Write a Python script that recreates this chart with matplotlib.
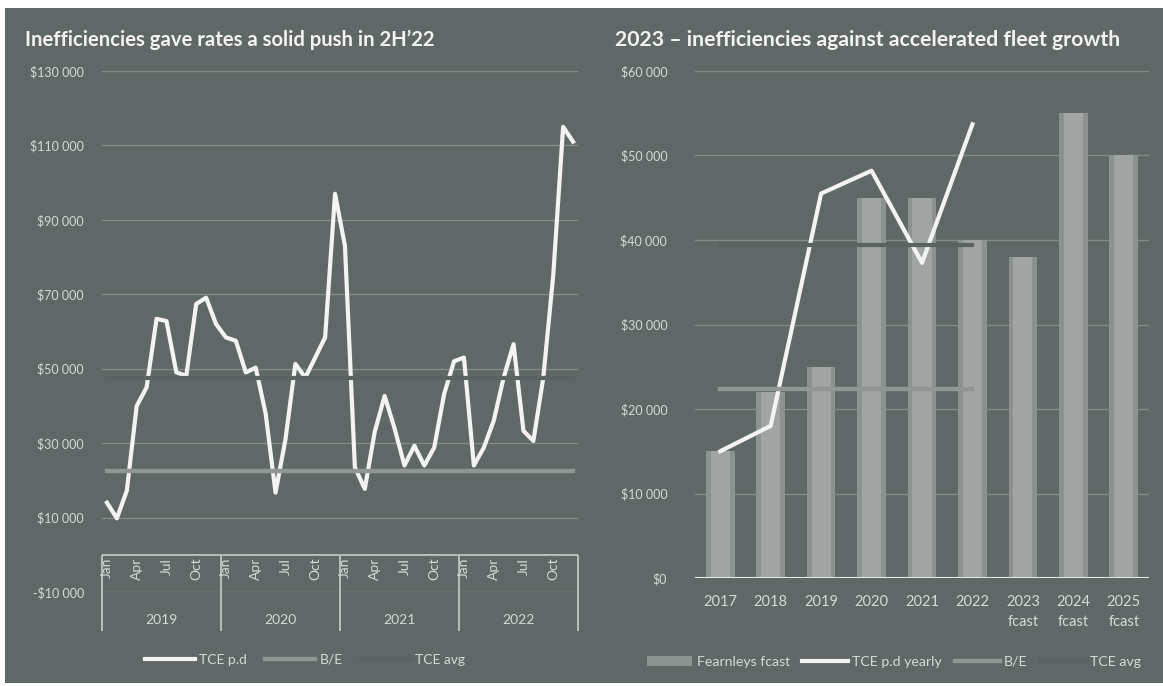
import numpy as np
import matplotlib.pyplot as plt
from matplotlib.ticker import FuncFormatter
from matplotlib.patches import Rectangle

# left chart: monthly TCE, Jan 2019 - Dec 2022
month_names = ['Jan', 'Feb', 'Mar', 'Apr', 'May', 'Jun', 'Jul', 'Aug', 'Sep', 'Oct', 'Nov', 'Dec']
years_left = ['2019', '2020', '2021', '2022']
tce_pd = [14000, 9800, 17200, 40000, 45000, 63400, 62800, 49000, 48100, 67400, 69100, 62000,
          58400, 57500, 49000, 50300, 38000, 16700, 31000, 51300, 47600, 53000, 58400, 97000,
          83000, 23500, 17700, 33000, 42700, 34000, 24000, 29300, 24000, 28800, 43200, 52000,
          53000, 24000, 28800, 36000, 47600, 56600, 33300, 30600, 47600, 75000, 115000, 111000]
be_left = 22500
tce_avg_left = 47500

# right chart: yearly
years_right = ['2017', '2018', '2019', '2020', '2021', '2022', '2023\nfcast', '2024\nfcast', '2025\nfcast']
fearnleys = [15000, 22000, 25000, 45000, 45000, 40000, 38000, 55000, 50000]
tce_yearly = [15000, 18000, 45500, 48200, 37300, 53700]
be_right = 22400
tce_avg_right = 39400

BG = '#5f6866'
GRID = '#838a88'
TXT = '#d6d9d8'
WHITE = '#f3f3f3'
BE_C = '#8f9694'
AVG_C = '#5a6361'
BAR_C = '#a0a5a3'
BAR_EDGE = '#8c9290'

plt.rcParams['font.family'] = ['Lato', 'DejaVu Sans']

fig = plt.figure(figsize=(11.63, 6.86), dpi=100, facecolor='white')
bg = fig.add_axes([5 / 1163, 3 / 686, 1 - 5 / 1163, 675 / 686], zorder=-5)
bg.add_patch(Rectangle((0, 0), 1, 1, transform=bg.transAxes, facecolor=BG, edgecolor='none'))
bg.set_axis_off()


def money(v, pos=None):
    s = '{:,.0f}'.format(abs(v)).replace(',', ' ')
    return ('-$' if v < 0 else '$') + s


# ---------- left ----------
ax1 = fig.add_axes([102 / 1163, (686 - 592) / 686, 476 / 1163, 521 / 686])
ax1.set_facecolor('none')
n = len(tce_pd)
x = np.arange(n)
ax1.set_xlim(-0.5, n - 0.5)
ax1.set_ylim(-10000, 130000)
ax1.set_yticks(np.arange(-10000, 130001, 20000))
ax1.yaxis.set_major_formatter(FuncFormatter(money))
ax1.grid(axis='y', color=GRID, lw=1)
ax1.set_axisbelow(True)
ax1.set_xticks([])
ax1.tick_params(axis='y', length=0, pad=13, labelsize=9, labelcolor=TXT)
for s in ax1.spines.values():
    s.set_visible(False)

ax1.plot(x, tce_pd, color=WHITE, lw=3, zorder=3, label='TCE p.d')
ax1.plot(x, [be_left] * n, color=BE_C, lw=3.2, zorder=4, label='B/E')
ax1.plot(x, [tce_avg_left] * n, color=AVG_C, lw=3, zorder=5, label='TCE avg')
ax1.axhline(0, color='#c9cdcb', lw=1.2, zorder=2)

# multi-level category axis
for i in range(n):
    if i % 3 == 0:
        ax1.annotate(month_names[i % 12], xy=(i, 0), xytext=(0, -3), textcoords='offset pixels',
                     rotation=90, ha='center', va='top', fontsize=10, color=TXT,
                     annotation_clip=False)
for k, yr in enumerate(years_left):
    ax1.annotate(yr, xy=(12 * k + 5.5, 0), xytext=(0, -65), textcoords='offset pixels',
                 ha='center', va='center', fontsize=10, color=TXT, annotation_clip=False)
seps = [12 * k - 0.5 for k in range(len(years_left) + 1)]
ax1.vlines(seps, -20400, 0, color='#c9cdcb', lw=1.2, clip_on=False)

ax1.legend(loc='center', bbox_to_anchor=(305 / 1163, 1 - 660 / 686), bbox_transform=fig.transFigure,
           ncol=3, frameon=False, fontsize=10, labelcolor=TXT, handlelength=3.6,
           handletextpad=0.3, columnspacing=1.3)

fig.text(25 / 1163, 1 - 40 / 686, "Inefficiencies gave rates a solid push in 2H\u201922",
         fontsize=14.6, fontweight='bold', color=WHITE, va='center', ha='left')

# ---------- right ----------
ax2 = fig.add_axes([695 / 1163, (686 - 578) / 686, 454 / 1163, 507 / 686])
ax2.set_facecolor('none')
xr = np.arange(len(years_right))
xl = np.arange(len(tce_yearly))
ax2.set_xlim(-0.5, len(years_right) - 0.5)
ax2.set_ylim(0, 60000)
ax2.set_yticks(np.arange(0, 60001, 10000))
ax2.yaxis.set_major_formatter(FuncFormatter(money))
ax2.grid(axis='y', color=GRID, lw=1)
ax2.set_axisbelow(True)
ax2.set_xticks(xr)
ax2.set_xticklabels(years_right, linespacing=1.55)
ax2.tick_params(axis='y', length=0, pad=20, labelsize=9, labelcolor=TXT)
ax2.tick_params(axis='x', length=0, pad=12, labelsize=10.5, labelcolor=TXT)
for s in ax2.spines.values():
    s.set_visible(False)

b = ax2.bar(xr, fearnleys, width=0.57, color=BAR_EDGE, zorder=2, label='Fearnleys fcast')
ax2.bar(xr, fearnleys, width=0.38, color=BAR_C, zorder=2)
l1, = ax2.plot(xl, tce_yearly, color=WHITE, lw=3, zorder=3, label='TCE p.d yearly')
l2, = ax2.plot(xl, [be_right] * len(xl), color=BE_C, lw=3.2, zorder=4, label='B/E')
l3, = ax2.plot(xl, [tce_avg_right] * len(xl), color=AVG_C, lw=3, zorder=5, label='TCE avg')
ax2.axhline(0, color='#e6e8e7', lw=1.5, zorder=6)

ax2.legend(handles=[b, l1, l2, l3], loc='center', bbox_to_anchor=(894 / 1163, 1 - 662 / 686),
           bbox_transform=fig.transFigure, ncol=4, frameon=False, fontsize=10.2, labelcolor=TXT,
           handlelength=3.2, handletextpad=0.3, columnspacing=0.9)

fig.text(615 / 1163, 1 - 40 / 686, "2023 \u2013 inefficiencies against accelerated fleet growth",
         fontsize=15.3, fontweight='bold', color=WHITE, va='center', ha='left')

fig.savefig('out.png', dpi=100, facecolor='white')
